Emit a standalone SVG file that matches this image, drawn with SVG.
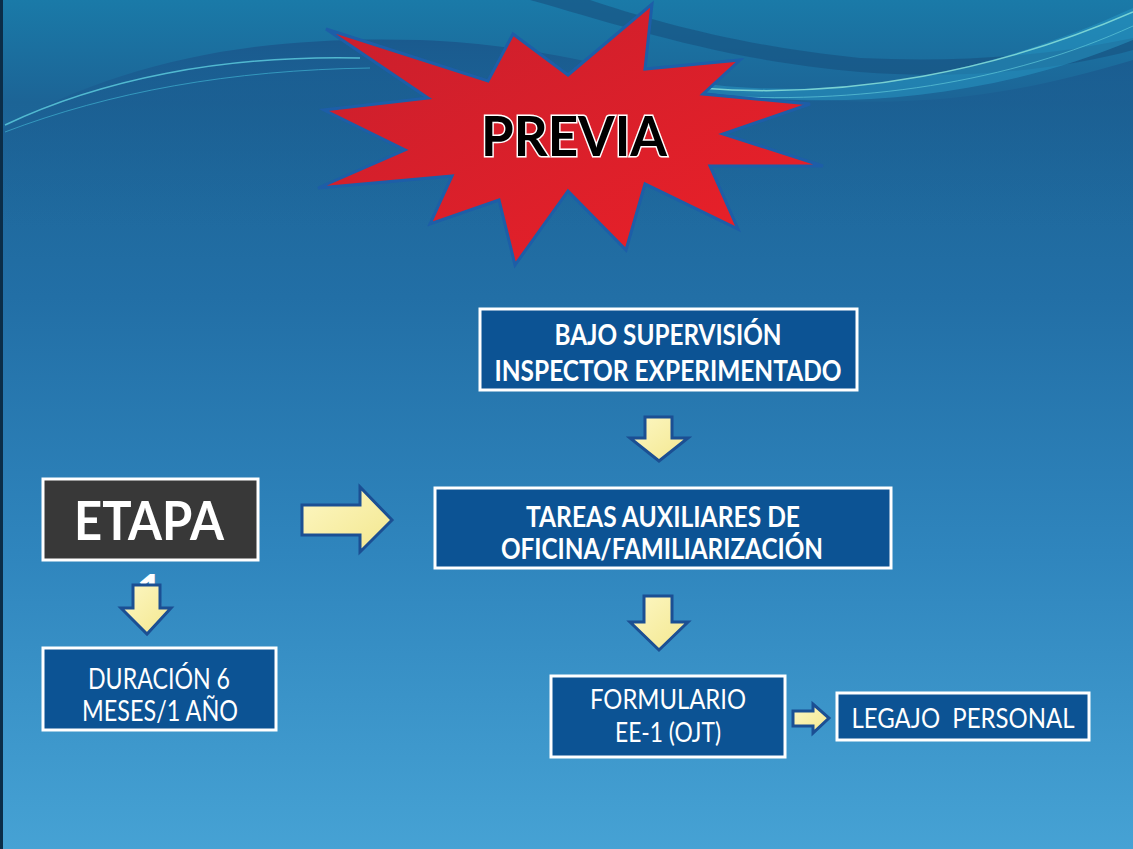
<svg xmlns="http://www.w3.org/2000/svg" width="1133" height="849" viewBox="0 0 1133 849">
<defs>
<linearGradient id="bg" x1="0" y1="0" x2="0" y2="1">
<stop offset="0" stop-color="#1a7aa8"/>
<stop offset="0.12" stop-color="#1c6496"/>
<stop offset="0.35" stop-color="#226fa6"/>
<stop offset="0.65" stop-color="#2f85bd"/>
<stop offset="1" stop-color="#46a2d4"/>
</linearGradient>
<linearGradient id="wave" x1="0" y1="0" x2="0" y2="1">
<stop offset="0" stop-color="#1a5a8e"/>
<stop offset="1" stop-color="#1d6499" stop-opacity="0"/>
</linearGradient>
<linearGradient id="star" x1="0" y1="0" x2="1" y2="1">
<stop offset="0" stop-color="#c81f2d"/>
<stop offset="1" stop-color="#ec2028"/>
</linearGradient>
<linearGradient id="arr" x1="0" y1="0" x2="1" y2="1">
<stop offset="0" stop-color="#fdf7c4"/>
<stop offset="1" stop-color="#f3e78e"/>
</linearGradient>
<style>
.box{fill:#0c5394;stroke:#ffffff;stroke-width:3}
.dark{fill:#383838;stroke:#ffffff;stroke-width:3}
.arrow{fill:url(#arr);stroke:#1b4f93;stroke-width:3;stroke-linejoin:miter}
.tb{font-family:Lato,"Open Sans",sans-serif;font-weight:bold;fill:#ffffff;text-anchor:middle}
.tr{font-family:Lato,"Open Sans",sans-serif;font-weight:normal;fill:#ffffff;text-anchor:middle;white-space:pre}
</style>
</defs>
<g id="background">
<rect x="0" y="0" width="1133" height="849" fill="url(#bg)"/>
<path d="M0,130 C120,60 260,35 420,40 C560,45 640,80 760,95 C900,110 1000,100 1133,60 V230 H0 Z" fill="url(#wave)"/>
<path d="M530,0 C620,25 720,60 860,72 C960,80 1060,70 1133,50 V38 C1040,58 950,62 860,58 C740,46 650,20 590,0 Z" fill="#17507f" opacity="0.6"/>
<path d="M690,82 C830,102 980,78 1133,8 V40 C990,100 830,112 690,90 Z" fill="#2aa0cc" opacity="0.45"/>
<path d="M5,125 C100,80 220,55 360,58" fill="none" stroke="#5fd0e0" stroke-width="1.5" opacity="0.8"/>
<path d="M5,132 C110,92 230,70 370,68" fill="none" stroke="#3fb0d0" stroke-width="1" opacity="0.7"/>
<path d="M700,88 C850,100 1000,70 1133,12" fill="none" stroke="#8fe6dc" stroke-width="1.5" opacity="0.8"/>
<path d="M700,95 C860,106 1010,82 1133,26" fill="none" stroke="#5fc8d8" stroke-width="1" opacity="0.7"/>
<rect x="0" y="0" width="3" height="849" fill="#0b2d48"/>
</g>
<g id="previa">
<polygon points="326,29 488,81 513,34 568,75 652,4 645,69 740,60 703,94 810,104 723,134 823,166 710,166 738,229 645,184 626,250 568,191 515,265 499,200 430,224 452,176 318,188 405,150 324,110 428,98" fill="url(#star)" stroke="#1d5ea8" stroke-width="3"/>
<text x="574" y="156" font-family="Lato,'Open Sans',sans-serif" font-weight="bold" font-size="56" text-anchor="middle" textLength="186" lengthAdjust="spacingAndGlyphs" fill="#000000" stroke="#ffffff" stroke-width="3" paint-order="stroke">PREVIA</text>
</g>
<g id="connectors">
<polygon class="arrow" points="645,417 672,417 672,438 688,438 659,461 630,438 645,438"/>
<polygon class="arrow" points="302,505 360,505 360,487 392,520 360,552 360,535 302,535"/>
<polygon class="arrow" points="644,596 672,596 672,622 688,622 659,650 630,622 644,622"/>
<polygon class="arrow" points="793,711 813,711 813,704 829,718 813,733 813,726 793,726"/>
</g>
<g id="node-supervision">
<rect class="box" x="480" y="309" width="377" height="81"/>
<text class="tb" x="668" y="345" font-size="28" textLength="227" lengthAdjust="spacingAndGlyphs">BAJO SUPERVISIÓN</text>
<text class="tb" x="668" y="381" font-size="28" textLength="347" lengthAdjust="spacingAndGlyphs">INSPECTOR EXPERIMENTADO</text>
</g>
<g id="node-tareas">
<rect class="box" x="435" y="488" width="456" height="80"/>
<text class="tb" x="663" y="527" font-size="28" textLength="274" lengthAdjust="spacingAndGlyphs">TAREAS AUXILIARES DE</text>
<text class="tb" x="662" y="559" font-size="28" textLength="322" lengthAdjust="spacingAndGlyphs">OFICINA/FAMILIARIZACIÓN</text>
</g>
<g id="node-etapa">
<rect class="dark" x="43" y="479" width="215" height="81"/>
<text class="tb" x="149" y="540" font-size="53" textLength="150" lengthAdjust="spacingAndGlyphs">ETAPA</text>
<text class="tb" x="150" y="607" font-size="46">1</text>
<polygon class="arrow" points="133,585 160,585 160,608 171,608 147,634 121,608 133,608"/>
</g>
<g id="node-duracion">
<rect class="box" x="43" y="648" width="233" height="82"/>
<text class="tr" x="159" y="689" font-size="28" textLength="142" lengthAdjust="spacingAndGlyphs">DURACIÓN 6</text>
<text class="tr" x="160" y="721" font-size="28" textLength="156" lengthAdjust="spacingAndGlyphs">MESES/1 AÑO</text>
</g>
<g id="node-formulario">
<rect class="box" x="551" y="676" width="234" height="81"/>
<text class="tr" x="668" y="709" font-size="27" textLength="156" lengthAdjust="spacingAndGlyphs">FORMULARIO</text>
<text class="tr" x="668" y="742" font-size="27" textLength="106" lengthAdjust="spacingAndGlyphs">EE-1 (OJT)</text>
</g>
<g id="node-legajo">
<rect class="box" x="837" y="693" width="252" height="47"/>
<text class="tr" x="963" y="728" font-size="27" textLength="223" lengthAdjust="spacingAndGlyphs">LEGAJO  PERSONAL</text>
</g>
</svg>
